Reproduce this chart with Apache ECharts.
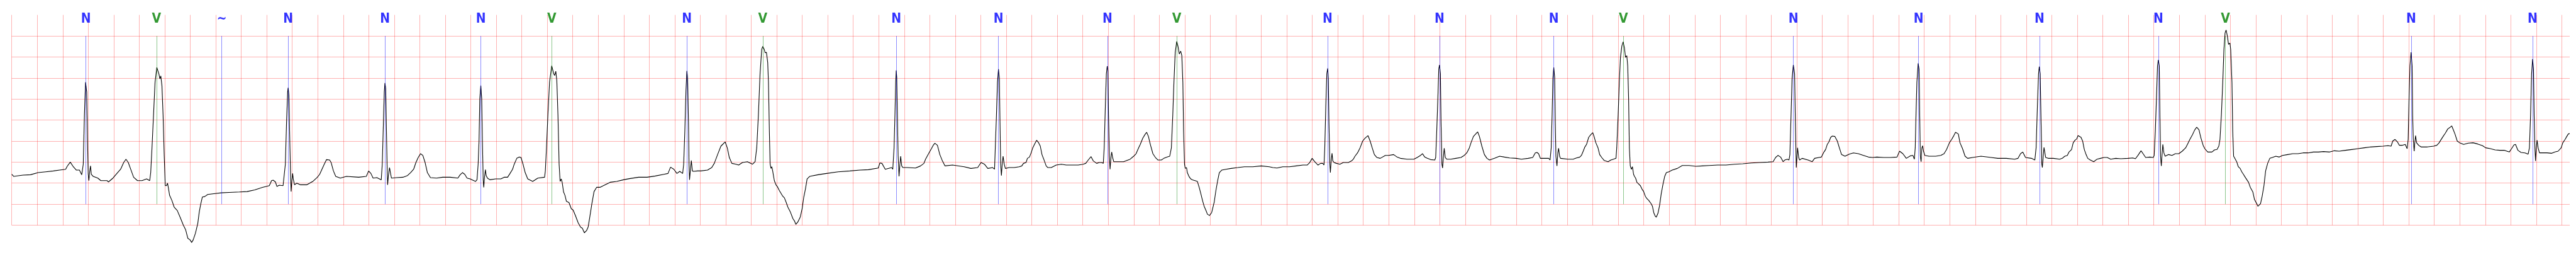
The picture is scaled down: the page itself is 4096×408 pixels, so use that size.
<!DOCTYPE html>
<html><head><meta charset="utf-8">
<script src="https://cdn.jsdelivr.net/npm/echarts@6/dist/echarts.min.js"></script>
<style>html,body{margin:0;padding:0;background:#fff}#c{width:4096px;height:408px}</style>
</head><body><div id="c"></div>
<script>
// Beat annotations: time (s) and symbol
const annTimes = [0.582,1.135,1.647,2.168,2.928,3.679,4.235,5.295,5.890,6.937,7.739,8.593,9.137,10.320,11.198,12.094,12.640,13.974,14.955,15.903,16.836,17.362,18.818,19.771];
const annSymbols = ['N','V','~','N','N','N','V','N','V','N','N','N','V','N','N','N','V','N','N','N','N','V','N','N'];
const annTextColors = {N:'#0000ff', V:'#008000', '~':'#0000ff'};
const annLineColors = {N:'rgba(0,0,255,0.45)', V:'rgba(0,128,0,0.45)', '~':'rgba(0,0,255,0.45)'};

// ECG trace: [time (s), amplitude (mV)]
const ecg = [
[0.000,-0.79],[0.016,-0.84],[0.088,-0.81],[0.148,-0.80],[0.207,-0.75],[0.267,-0.73],[0.327,-0.71],[0.375,-0.69],[0.423,-0.67],[0.435,-0.60],[0.459,-0.50],[0.483,-0.61],[0.507,-0.69],[0.531,-0.69],[0.549,-0.80],[0.561,-0.55],[0.570,0.62],[0.579,1.40],[0.582,1.41],[0.588,1.17],[0.594,0.04],[0.600,-0.79],[0.605,-0.94],[0.612,-0.71],[0.618,-0.59],[0.624,-0.79],[0.639,-0.84],[0.675,-0.88],[0.699,-0.94],[0.747,-0.94],[0.759,-0.97],[0.794,-0.88],[0.830,-0.75],[0.854,-0.67],[0.878,-0.51],[0.896,-0.43],[0.914,-0.51],[0.938,-0.71],[0.956,-0.86],[0.986,-0.94],[1.022,-0.94],[1.058,-0.90],[1.082,-0.94],[1.090,-0.75],[1.100,-0.16],[1.112,0.62],[1.124,1.40],[1.138,1.75],[1.154,1.60],[1.162,1.48],[1.169,1.55],[1.178,1.32],[1.187,0.62],[1.196,-0.36],[1.204,-1.06],[1.214,-1.06],[1.222,-1.00],[1.228,-1.10],[1.238,-1.29],[1.256,-1.41],[1.274,-1.57],[1.298,-1.65],[1.322,-1.82],[1.346,-2.00],[1.364,-2.11],[1.381,-2.31],[1.399,-2.35],[1.411,-2.41],[1.423,-2.35],[1.441,-2.19],[1.459,-1.96],[1.471,-1.68],[1.483,-1.49],[1.495,-1.33],[1.513,-1.32],[1.537,-1.27],[1.585,-1.25],[1.645,-1.23],[1.705,-1.22],
[1.786,-1.21],[1.846,-1.20],[1.906,-1.16],[1.966,-1.10],[2.020,-1.06],[2.038,-0.94],[2.050,-0.93],[2.068,-0.97],[2.080,-1.08],[2.098,-1.05],[2.128,-1.06],[2.137,-1.08],[2.146,-0.55],[2.155,0.43],[2.164,1.17],[2.168,1.27],[2.174,1.09],[2.182,-0.16],[2.188,-0.94],[2.191,-1.20],[2.197,-0.94],[2.203,-0.77],[2.208,-0.90],[2.218,-1.04],[2.236,-1.00],[2.265,-1.04],[2.313,-1.04],[2.361,-0.96],[2.397,-0.86],[2.415,-0.79],[2.433,-0.67],[2.451,-0.55],[2.469,-0.44],[2.493,-0.45],[2.505,-0.51],[2.523,-0.71],[2.541,-0.84],[2.577,-0.88],[2.625,-0.84],[2.721,-0.86],[2.781,-0.84],[2.799,-0.71],[2.817,-0.77],[2.834,-0.88],[2.864,-0.87],[2.898,-0.92],[2.906,-0.55],[2.915,0.43],[2.922,1.17],[2.927,1.38],[2.933,1.25],[2.939,0.23],[2.945,-0.75],[2.948,-1.04],[2.954,-0.82],[2.963,-0.63],[2.970,-0.75],[2.978,-0.88],[3.020,-0.87],[3.068,-0.86],[3.104,-0.82],[3.128,-0.75],[3.152,-0.67],[3.170,-0.51],[3.188,-0.39],[3.206,-0.30],[3.224,-0.34],[3.242,-0.51],[3.260,-0.75],[3.284,-0.87],[3.332,-0.88],[3.380,-0.86],[3.439,-0.86],[3.499,-0.88],[3.517,-0.80],[3.535,-0.75],[3.553,-0.79],[3.571,-0.88],[3.595,-0.90],[3.637,-0.96],[3.649,-0.92],[3.658,-0.55],[3.665,0.00],
[3.671,1.01],[3.679,1.32],[3.686,1.01],[3.691,0.04],[3.698,-0.94],[3.702,-1.10],[3.708,-0.86],[3.715,-0.68],[3.721,-0.82],[3.731,-0.88],[3.750,-0.92],[3.796,-0.90],[3.836,-0.90],[3.862,-0.86],[3.889,-0.86],[3.908,-0.77],[3.928,-0.67],[3.941,-0.55],[3.961,-0.41],[3.981,-0.38],[3.994,-0.39],[4.010,-0.55],[4.027,-0.75],[4.047,-0.90],[4.086,-0.96],[4.126,-0.88],[4.179,-0.86],[4.185,-0.71],[4.194,-0.16],[4.205,0.62],[4.218,1.40],[4.235,1.79],[4.251,1.60],[4.258,1.56],[4.267,1.66],[4.275,1.44],[4.284,0.62],[4.293,-0.55],[4.301,-0.96],[4.310,-0.90],[4.317,-0.98],[4.328,-1.21],[4.339,-1.29],[4.350,-1.43],[4.370,-1.46],[4.389,-1.61],[4.403,-1.64],[4.422,-1.78],[4.442,-1.94],[4.462,-2.05],[4.475,-2.07],[4.491,-2.18],[4.508,-2.13],[4.521,-2.04],[4.534,-1.80],[4.550,-1.49],[4.567,-1.20],[4.587,-1.10],[4.613,-1.10],[4.640,-1.06],[4.693,-0.98],[4.745,-0.96],[4.798,-0.92],[4.851,-0.89],[4.917,-0.86],[4.983,-0.86],[5.048,-0.83],[5.114,-0.79],[5.147,-0.77],[5.167,-0.62],[5.193,-0.67],[5.217,-0.77],[5.239,-0.72],[5.262,-0.77],[5.270,-0.55],[5.279,0.23],[5.288,1.21],[5.295,1.67],[5.301,1.48],[5.308,0.43],[5.312,-0.55],[5.316,-0.92],[5.322,-0.71],[5.330,-0.46],[5.338,-0.71],[5.348,-0.72],[5.378,-0.71],[5.404,-0.71],[5.457,-0.69],[5.490,-0.63],[5.510,-0.53],[5.536,-0.32],[5.562,-0.12],[5.582,-0.06],[5.595,-0.02],[5.612,-0.16],[5.628,-0.39],[5.648,-0.53],[5.681,-0.55],[5.701,-0.57],
[5.731,-0.51],[5.770,-0.49],[5.810,-0.55],[5.830,-0.49],[5.843,-0.16],[5.856,0.62],[5.869,1.60],[5.882,2.18],[5.890,2.25],[5.902,2.18],[5.909,2.10],[5.919,2.11],[5.929,1.87],[5.935,1.40],[5.942,0.23],[5.948,-0.55],[5.955,-0.65],[5.961,-0.61],[5.968,-0.71],[5.981,-0.94],[5.994,-1.04],[6.008,-1.10],[6.021,-1.18],[6.047,-1.31],[6.060,-1.35],[6.073,-1.45],[6.087,-1.57],[6.106,-1.68],[6.126,-1.84],[6.139,-1.90],[6.150,-1.98],[6.166,-1.92],[6.185,-1.80],[6.199,-1.61],[6.212,-1.33],[6.225,-1.14],[6.238,-0.90],[6.258,-0.84],[6.324,-0.80],[6.390,-0.77],[6.482,-0.73],[6.574,-0.71],[6.653,-0.69],[6.719,-0.68],[6.796,-0.64],[6.809,-0.52],[6.825,-0.53],[6.851,-0.67],[6.901,-0.63],[6.910,-0.67],[6.920,-0.16],[6.927,0.62],[6.933,1.40],[6.937,1.68],[6.941,1.52],[6.946,0.62],[6.952,-0.36],[6.959,-0.84],[6.966,-0.55],[6.972,-0.36],[6.980,-0.59],[6.989,-0.63],[7.022,-0.63],[7.088,-0.64],[7.128,-0.59],[7.154,-0.53],[7.167,-0.43],[7.194,-0.28],[7.213,-0.18],[7.227,-0.10],[7.240,-0.05],[7.260,-0.10],[7.279,-0.32],[7.299,-0.47],[7.319,-0.59],[7.378,-0.57],[7.470,-0.61],[7.523,-0.65],[7.576,-0.63],[7.602,-0.51],[7.629,-0.55],[7.655,-0.65],[7.694,-0.63],[7.708,-0.67],[7.714,-0.16],[7.723,0.62],[7.731,1.40],[7.739,1.71],[7.746,1.48],[7.751,0.43],[7.756,-0.55],[7.762,-0.82],[7.768,-0.55],[7.775,-0.36],[7.784,-0.55],[7.793,-0.65],
[7.823,-0.63],[7.863,-0.63],[7.902,-0.61],[7.922,-0.59],[7.935,-0.53],[7.955,-0.51],[7.966,-0.41],[7.982,-0.38],[7.995,-0.28],[8.008,-0.16],[8.021,-0.08],[8.038,0.02],[8.054,-0.04],[8.067,-0.12],[8.080,-0.32],[8.094,-0.43],[8.113,-0.59],[8.126,-0.63],[8.153,-0.63],[8.192,-0.57],[8.232,-0.55],[8.271,-0.57],[8.324,-0.57],[8.364,-0.57],[8.403,-0.55],[8.423,-0.53],[8.443,-0.45],[8.465,-0.37],[8.482,-0.47],[8.509,-0.53],[8.528,-0.51],[8.548,-0.51],[8.561,-0.53],[8.568,-0.16],[8.577,0.82],[8.585,1.60],[8.592,1.78],[8.597,1.68],[8.602,0.62],[8.609,-0.36],[8.614,-0.67],[8.621,-0.39],[8.627,-0.26],[8.634,-0.39],[8.643,-0.49],[8.667,-0.49],[8.720,-0.49],[8.772,-0.43],[8.799,-0.36],[8.818,-0.30],[8.838,-0.16],[8.851,-0.08],[8.871,0.07],[8.891,0.17],[8.901,0.21],[8.915,0.11],[8.930,-0.08],[8.950,-0.30],[8.970,-0.39],[8.990,-0.45],[9.016,-0.45],[9.036,-0.41],[9.062,-0.38],[9.082,-0.36],[9.095,-0.16],[9.106,0.62],[9.115,1.40],[9.125,2.11],[9.137,2.37],[9.148,2.24],[9.157,2.07],[9.168,2.14],[9.177,2.03],[9.185,1.40],[9.191,0.23],[9.198,-0.55],[9.204,-0.65],[9.214,-0.63],[9.220,-0.75],[9.233,-0.84],[9.247,-0.90],[9.260,-0.92],[9.280,-0.94],[9.299,-0.96],[9.313,-1.10],[9.326,-1.25],[9.339,-1.41],[9.352,-1.55],[9.365,-1.64],[9.378,-1.74],[9.394,-1.77],[9.411,-1.70],[9.431,-1.45],[9.444,-1.18],[9.458,-0.94],[9.471,-0.75],[9.490,-0.69],[9.523,-0.67],[9.563,-0.65],[9.616,-0.63],[9.668,-0.61],[9.734,-0.61],[9.800,-0.59],
[9.863,-0.61],[9.890,-0.63],[9.923,-0.64],[9.969,-0.61],[10.021,-0.61],[10.074,-0.59],[10.127,-0.57],[10.160,-0.57],[10.180,-0.51],[10.199,-0.41],[10.219,-0.49],[10.245,-0.57],[10.265,-0.53],[10.282,-0.53],[10.292,-0.57],[10.298,-0.16],[10.306,0.82],[10.314,1.60],[10.321,1.73],[10.326,1.48],[10.331,0.43],[10.338,-0.55],[10.342,-0.75],[10.348,-0.47],[10.355,-0.29],[10.361,-0.47],[10.371,-0.51],[10.390,-0.53],[10.417,-0.55],[10.443,-0.51],[10.483,-0.51],[10.509,-0.47],[10.522,-0.43],[10.535,-0.36],[10.555,-0.28],[10.575,-0.16],[10.595,0.00],[10.614,0.07],[10.637,0.13],[10.654,0.00],[10.670,-0.16],[10.687,-0.32],[10.707,-0.39],[10.733,-0.41],[10.773,-0.34],[10.799,-0.34],[10.838,-0.32],[10.865,-0.38],[10.891,-0.41],[10.944,-0.43],[10.997,-0.43],[11.023,-0.39],[11.049,-0.34],[11.065,-0.30],[11.082,-0.38],[11.102,-0.41],[11.128,-0.44],[11.161,-0.45],[11.168,-0.39],[11.176,0.23],[11.185,1.01],[11.192,1.71],[11.198,1.81],[11.205,1.60],[11.210,0.43],[11.217,-0.55],[11.222,-0.64],[11.229,-0.36],[11.235,-0.17],[11.243,-0.39],[11.254,-0.43],[11.286,-0.43],[11.326,-0.41],[11.366,-0.39],[11.392,-0.34],[11.412,-0.28],[11.432,-0.16],[11.445,-0.04],[11.464,0.11],[11.482,0.17],[11.497,0.22],[11.511,0.11],[11.530,-0.12],[11.550,-0.32],[11.570,-0.41],[11.590,-0.45],[11.629,-0.41],[11.669,-0.36],[11.708,-0.38],[11.748,-0.40],[11.800,-0.41],[11.840,-0.43],[11.893,-0.41],
[11.929,-0.39],[11.949,-0.28],[11.962,-0.27],[11.975,-0.30],[11.989,-0.41],[12.008,-0.41],[12.054,-0.41],[12.065,-0.45],[12.074,-0.16],[12.081,0.62],[12.087,1.48],[12.094,1.75],[12.101,1.52],[12.106,0.43],[12.111,-0.36],[12.119,-0.59],[12.126,-0.28],[12.132,-0.17],[12.140,-0.36],[12.147,-0.41],[12.206,-0.43],[12.246,-0.43],[12.272,-0.40],[12.298,-0.38],[12.311,-0.34],[12.325,-0.24],[12.338,-0.14],[12.351,-0.08],[12.368,0.09],[12.384,0.15],[12.400,0.20],[12.410,0.11],[12.424,-0.04],[12.441,-0.16],[12.454,-0.32],[12.470,-0.39],[12.489,-0.46],[12.520,-0.49],[12.542,-0.45],[12.562,-0.43],[12.582,-0.41],[12.588,-0.16],[12.599,0.62],[12.608,1.40],[12.617,1.99],[12.628,2.26],[12.638,2.36],[12.648,2.22],[12.657,1.99],[12.667,2.03],[12.674,1.79],[12.681,1.01],[12.687,-0.16],[12.694,-0.59],[12.703,-0.67],[12.711,-0.61],[12.720,-0.79],[12.727,-0.84],[12.736,-0.88],[12.746,-0.98],[12.760,-1.02],[12.773,-1.06],[12.786,-1.14],[12.799,-1.20],[12.812,-1.31],[12.825,-1.37],[12.839,-1.41],[12.858,-1.49],[12.868,-1.55],[12.878,-1.70],[12.889,-1.78],[12.898,-1.81],[12.911,-1.72],[12.924,-1.53],[12.937,-1.25],[12.951,-1.02],[12.964,-0.84],[12.977,-0.75],[12.997,-0.73],[13.023,-0.69],[13.063,-0.65],[13.102,-0.58],[13.155,-0.58],[13.208,-0.60],[13.260,-0.59],[13.313,-0.58],[13.379,-0.57],[13.445,-0.57],[13.511,-0.55],[13.577,-0.54],[13.643,-0.52],[13.708,-0.51],[13.774,-0.50],[13.814,-0.49],[13.834,-0.39],[13.853,-0.34],[13.873,-0.38],[13.893,-0.49],[13.906,-0.45],[13.926,-0.43],[13.939,-0.45],[13.946,-0.32],[13.955,0.62],[13.963,1.48],[13.973,1.81],[13.983,1.60],[13.989,0.43],
[13.996,-0.63],[14.006,-0.16],[14.015,-0.39],[14.022,-0.45],[14.042,-0.41],[14.088,-0.45],[14.121,-0.49],[14.140,-0.41],[14.173,-0.39],[14.193,-0.38],[14.213,-0.26],[14.226,-0.20],[14.239,-0.08],[14.252,-0.02],[14.266,0.09],[14.279,0.12],[14.299,0.11],[14.318,0.00],[14.332,-0.14],[14.351,-0.32],[14.378,-0.36],[14.411,-0.31],[14.444,-0.28],[14.483,-0.30],[14.523,-0.34],[14.562,-0.38],[14.595,-0.39],[14.628,-0.38],[14.681,-0.39],[14.734,-0.39],[14.786,-0.38],[14.806,-0.24],[14.832,-0.30],[14.859,-0.41],[14.892,-0.35],[14.911,-0.34],[14.922,-0.43],[14.929,-0.16],[14.935,0.62],[14.942,1.40],[14.952,1.85],[14.959,1.71],[14.964,0.62],[14.969,-0.36],[14.975,-0.49],[14.981,-0.16],[14.987,-0.11],[14.994,-0.24],[15.004,-0.34],[15.037,-0.36],[15.089,-0.36],[15.129,-0.34],[15.155,-0.30],[15.175,-0.20],[15.197,-0.04],[15.215,0.04],[15.228,0.11],[15.245,0.21],[15.267,0.17],[15.280,-0.04],[15.300,-0.18],[15.320,-0.36],[15.340,-0.41],[15.379,-0.39],[15.445,-0.36],[15.524,-0.39],[15.577,-0.41],[15.643,-0.41],[15.709,-0.43],[15.735,-0.41],[15.755,-0.30],[15.772,-0.26],[15.794,-0.39],[15.840,-0.41],[15.867,-0.45],[15.877,-0.16],[15.887,0.82],[15.896,1.60],[15.902,1.77],[15.909,1.60],[15.916,0.43],[15.922,-0.55],[15.926,-0.63],[15.933,-0.36],[15.939,-0.15],[15.952,-0.39],[15.972,-0.41],[16.012,-0.41],
[16.062,-0.43],[16.082,-0.41],[16.102,-0.36],[16.122,-0.34],[16.135,-0.26],[16.155,-0.20],[16.168,-0.04],[16.182,0.02],[16.195,0.05],[16.206,0.13],[16.215,0.14],[16.229,0.09],[16.242,0.00],[16.255,-0.20],[16.269,-0.32],[16.282,-0.41],[16.302,-0.45],[16.329,-0.49],[16.355,-0.43],[16.382,-0.41],[16.409,-0.39],[16.435,-0.39],[16.462,-0.43],[16.502,-0.41],[16.542,-0.42],[16.596,-0.41],[16.636,-0.40],[16.656,-0.42],[16.676,-0.34],[16.700,-0.23],[16.716,-0.30],[16.736,-0.39],[16.769,-0.38],[16.796,-0.39],[16.803,-0.34],[16.812,0.23],[16.823,1.21],[16.829,1.79],[16.836,1.93],[16.843,1.79],[16.848,0.62],[16.853,-0.36],[16.859,-0.59],[16.864,-0.36],[16.871,-0.08],[16.879,-0.28],[16.889,-0.36],[16.916,-0.32],[16.943,-0.34],[16.969,-0.30],[16.996,-0.30],[17.023,-0.24],[17.050,-0.16],[17.070,-0.04],[17.083,0.04],[17.103,0.15],[17.120,0.26],[17.136,0.33],[17.154,0.27],[17.170,0.07],[17.187,-0.10],[17.200,-0.18],[17.223,-0.26],[17.256,-0.26],[17.276,-0.21],[17.296,-0.20],[17.310,-0.12],[17.319,0.04],[17.330,0.62],[17.341,1.40],[17.350,2.18],[17.359,2.57],[17.367,2.64],[17.377,2.50],[17.386,2.30],[17.397,2.33],[17.403,2.18],[17.413,1.40],[17.419,0.23],[17.426,-0.36],[17.434,-0.40],[17.441,-0.38],[17.450,-0.49],[17.463,-0.61],[17.477,-0.65],[17.490,-0.73],[17.503,-0.79],[17.517,-0.86],[17.530,-0.92],[17.543,-0.98],[17.557,-1.10],[17.577,-1.21],[17.590,-1.39],[17.604,-1.47],[17.617,-1.55],[17.626,-1.56],[17.637,-1.49],[17.650,-1.31],[17.664,-1.06],[17.677,-0.71],[17.693,-0.53],[17.710,-0.41],[17.730,-0.39],[17.757,-0.36],[17.784,-0.38],[17.810,-0.34],[17.850,-0.32],[17.890,-0.30],[17.931,-0.30],[17.971,-0.28],[18.011,-0.28],[18.051,-0.26],[18.091,-0.26],[18.131,-0.25],
[18.179,-0.26],[18.216,-0.23],[18.254,-0.24],[18.303,-0.22],[18.352,-0.20],[18.402,-0.18],[18.451,-0.16],[18.501,-0.14],[18.550,-0.13],[18.599,-0.12],[18.637,-0.11],[18.661,-0.12],[18.674,0.00],[18.692,0.04],[18.711,-0.02],[18.726,-0.10],[18.748,-0.10],[18.772,-0.08],[18.787,-0.18],[18.795,0.04],[18.802,1.01],[18.809,1.79],[18.818,2.11],[18.826,1.79],[18.830,0.62],[18.835,0.04],[18.842,-0.24],[18.847,-0.04],[18.853,0.13],[18.861,-0.04],[18.877,-0.10],[18.896,-0.14],[18.945,-0.14],[18.995,-0.12],[19.020,-0.10],[19.038,-0.04],[19.050,0.02],[19.069,0.11],[19.087,0.19],[19.106,0.29],[19.125,0.33],[19.137,0.36],[19.149,0.27],[19.162,0.17],[19.180,0.00],[19.199,-0.04],[19.230,-0.08],[19.267,-0.05],[19.304,-0.04],[19.341,-0.07],[19.378,-0.11],[19.403,-0.16],[19.440,-0.18],[19.477,-0.21],[19.514,-0.22],[19.551,-0.22],[19.588,-0.26],[19.606,-0.18],[19.625,-0.09],[19.637,-0.08],[19.656,-0.22],[19.680,-0.27],[19.711,-0.28],[19.736,-0.31],[19.746,-0.16],[19.755,0.62],[19.763,1.60],[19.771,1.95],[19.778,1.71],[19.783,0.62],[19.789,-0.16],[19.794,-0.47],[19.800,-0.16],[19.806,0.02],[19.814,-0.16],[19.825,-0.28],[19.853,-0.28],[19.884,-0.28],[19.921,-0.29],[19.946,-0.26],[19.971,-0.24],[19.995,-0.16],[20.008,-0.04],[20.026,0.04],[20.039,0.11],[20.051,0.17],[20.062,0.18]
];

// Axis ranges (s, mV)
const tMin = 0, tMax = 20.062, tStep = 0.2;
const vMin = -2, vMax = 3, vStep = 0.5;
const annTop = 2.5, annBottom = -1.5, annLabelY = 2.9;

const chart = echarts.init(document.getElementById('c'), null, {renderer: 'canvas'});
const gridLine = {show: true, showMinLine: true, showMaxLine: false, lineStyle: {color: 'rgba(255,0,0,0.3)', width: 1}};
chart.setOption({
  animation: false,
  backgroundColor: '#ffffff',
  grid: {left: 18.66, right: 10, top: 23.7, bottom: 50.5, containLabel: false},
  xAxis: {type: 'value', min: tMin, max: tMax, interval: tStep,
    axisLine: {show: false}, axisTick: {show: false}, axisLabel: {show: false}, splitLine: gridLine},
  yAxis: {type: 'value', min: vMin, max: vMax, interval: vStep,
    axisLine: {show: false}, axisTick: {show: false}, axisLabel: {show: false}, splitLine: gridLine},
  series: [
    {
      type: 'scatter', symbolSize: 0, silent: true, z: 2,
      data: annTimes.map((t, i) => ({value: [t, annLabelY], name: annSymbols[i],
        label: {color: annTextColors[annSymbols[i]]}})),
      label: {show: true, position: 'inside', formatter: p => p.name,
        fontFamily: 'DejaVu Sans Condensed, DejaVu Sans, sans-serif', fontWeight: 'bold', fontSize: 21,
        textBorderWidth: 0},
      markLine: {
        silent: true, symbol: ['none', 'none'], label: {show: false},
        data: annTimes.map((t, i) => [
          {coord: [t, annTop], lineStyle: {color: annLineColors[annSymbols[i]], width: 1, type: 'solid'}},
          {coord: [t, annBottom]}
        ])
      }
    },
    {
      type: 'line', data: ecg, showSymbol: false, symbol: 'none', clip: false, z: 3,
      lineStyle: {color: '#000000', width: 1.1}
    }
  ]
});
</script>
</body></html>
